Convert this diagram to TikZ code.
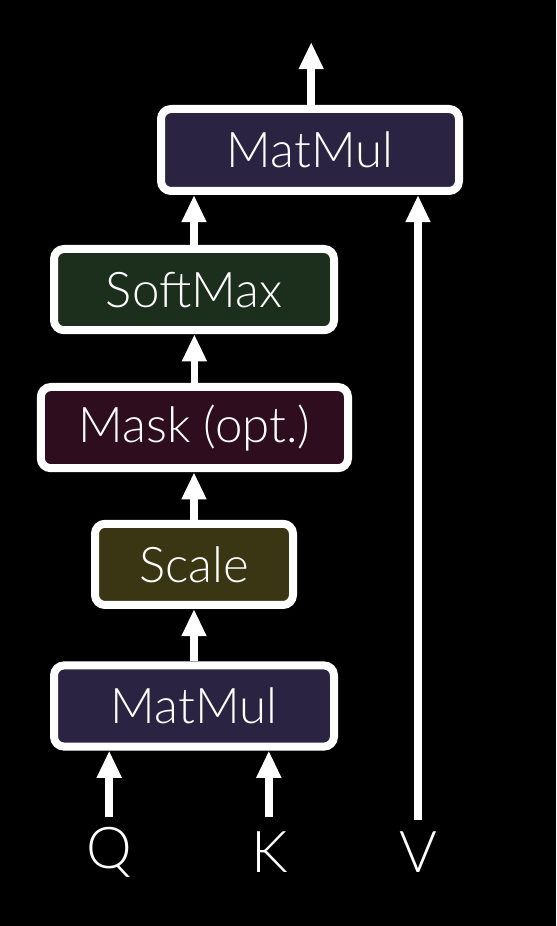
\documentclass[tikz,border=0pt]{standalone}
\usepackage{fontspec}
\setmainfont{Lato Light}
\usetikzlibrary{arrows.meta}

\definecolor{matmulfill}{HTML}{2A2442}
\definecolor{scalefill}{HTML}{3A3512}
\definecolor{maskfill}{HTML}{2E0E1E}
\definecolor{softmaxfill}{HTML}{1C2E1C}

\begin{document}
\begin{tikzpicture}
  \fill[black] (0,0) rectangle (13.9,23.15);
  \useasboundingbox (0,0) rectangle (13.9,23.15);
  \tikzstyle{Block}=[draw=white,line width=0.2cm,rounded corners=0.25cm,
    text=white,font=\fontsize{35}{42}\selectfont,inner sep=0pt,
    minimum height=2.03cm]
  \tikzstyle{Flow}=[draw=white,line width=0.19cm,
    -{Triangle[length=0.68cm,width=0.58cm]}]
  \tikzstyle{Input}=[text=white,font=\fontsize{41}{48}\selectfont,inner sep=0pt]

  \node [Block,fill=matmulfill,minimum width=7.0cm] (mmqk) at (4.85,5.5) {MatMul};
  \node [Block,fill=scalefill,minimum width=4.95cm] (scale) at (4.85,9.04) {Scale};
  \node [Block,fill=maskfill,minimum width=7.68cm] (mask) at (4.86,12.46) {Mask (opt.)};
  \node [Block,fill=softmaxfill,minimum width=7.0cm] (softmax) at (4.85,15.91) {SoftMax};
  \node [Block,fill=matmulfill,minimum width=7.45cm,minimum height=2.05cm] (mmv) at (7.75,19.4) {MatMul};

  \node [Input] (q) at (2.73,1.85) {Q};
  \node [Input] (k) at (6.75,1.85) {K};
  \node [Input] (v) at (10.45,1.85) {V};

  \coordinate (qin) at (2.73,2.73);
  \coordinate (kin) at (6.72,2.73);
  \coordinate (vin) at (10.45,2.65);
  \coordinate (out) at (7.78,22.1);

  \draw [Flow] (qin) -- (qin |- mmqk.south);
  \draw [Flow] (kin) -- (kin |- mmqk.south);
  \draw [Flow] (mmqk.north) -- (scale.south);
  \draw [Flow] (scale.north) -- (scale.north |- mask.south);
  \draw [Flow] (mask.south |- mask.north) -- (mask.south |- softmax.south);
  \draw [Flow] (softmax.north) -- (softmax.north |- mmv.south);
  \draw [Flow] (vin) -- (vin |- mmv.south);
  \draw [Flow] (out |- mmv.north) -- (out);
\end{tikzpicture}
\end{document}
